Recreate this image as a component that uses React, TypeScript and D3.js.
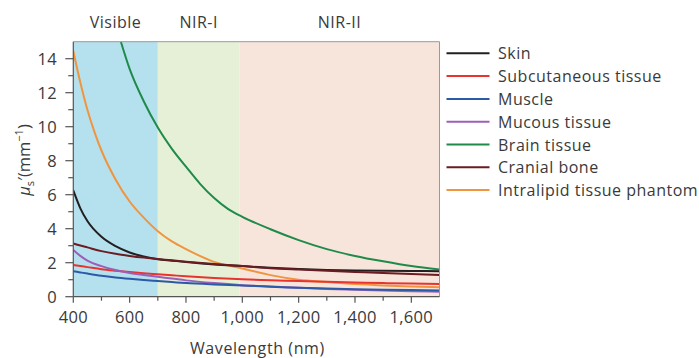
import React from "react";
import * as d3 from "d3";

const wavelengths = [400, 425, 450, 500, 550, 600, 650, 700, 750, 800, 900, 1000, 1100, 1200, 1300, 1400, 1500, 1600, 1700];
const skin = [6.25, 5.2, 4.45, 3.52, 2.97, 2.6, 2.36, 2.2, 2.12, 2.04, 1.9, 1.8, 1.7, 1.63, 1.57, 1.54, 1.52, 1.51, 1.5];
const subcutaneous = [1.86, 1.8, 1.74, 1.62, 1.53, 1.45, 1.38, 1.32, 1.26, 1.2, 1.1, 1.02, 0.97, 0.92, 0.88, 0.84, 0.8, 0.77, 0.74];
const muscle = [1.5, 1.43, 1.36, 1.23, 1.13, 1.05, 0.98, 0.92, 0.86, 0.8, 0.72, 0.66, 0.58, 0.53, 0.48, 0.44, 0.41, 0.39, 0.37];
const mucous = [2.75, 2.4, 2.12, 1.8, 1.57, 1.4, 1.28, 1.17, 1.07, 0.96, 0.8, 0.68, 0.6, 0.52, 0.46, 0.41, 0.36, 0.32, 0.29];
const cranialBone = [3.13, 3.01, 2.9, 2.68, 2.52, 2.4, 2.3, 2.22, 2.14, 2.06, 1.92, 1.8, 1.68, 1.6, 1.53, 1.46, 1.39, 1.33, 1.27];

const intralipidWavelengths = [400, 425, 450, 475, 500, 550, 600, 650, 700, 750, 800, 900, 1000, 1100, 1200, 1300, 1400, 1500, 1600, 1700];
const intralipid = [14.45, 12.6, 11.0, 9.7, 8.6, 6.9, 5.6, 4.65, 3.85, 3.25, 2.8, 2.05, 1.66, 1.27, 1.0, 0.86, 0.74, 0.66, 0.6, 0.56];

const brainWavelengths = [570, 600, 650, 700, 750, 800, 850, 900, 950, 1000, 1100, 1200, 1300, 1400, 1500, 1600, 1700];
const brain = [14.94, 13.4, 11.5, 9.95, 8.7, 7.65, 6.64, 5.8, 5.15, 4.7, 3.97, 3.33, 2.8, 2.4, 2.08, 1.8, 1.6];

const seriesNames = ["Skin", "Subcutaneous tissue", "Muscle", "Mucous tissue", "Brain tissue", "Cranial bone", "Intralipid tissue phantom"];
const seriesColors = ["#231f20", "#e8342f", "#2b5aa6", "#9c5fb8", "#1f8a4a", "#6a1c22", "#ef9540"];

const bandNames = ["Visible", "NIR-I", "NIR-II"];
const bandStarts = [400, 700, 990];
const bandEnds = [700, 990, 1700];
const bandColors = ["#b5e1ee", "#e6f0d7", "#f7e5dc"];

const xTicks = [400, 500, 600, 700, 800, 900, 1000, 1100, 1200, 1300, 1400, 1500, 1600];
const xTickLabels = ["400", "", "600", "", "800", "", "1,000", "", "1,200", "", "1,400", "", "1,600"];
const yTicks = [0, 1, 2, 3, 4, 5, 6, 7, 8, 9, 10, 11, 12, 13, 14];

const FONT = "'Open Sans', Lato, sans-serif";
const TEXT = "#3a3a3a";

export default function App() {
  const left = 73.3, right = 439.5, top = 41.7, bottom = 296.7;
  const x = d3.scaleLinear().domain([400, 1700]).range([left, right]);
  const y = d3.scaleLinear().domain([0, 15]).range([bottom, top]);

  const line = d3
    .line<[number, number]>()
    .x((d) => x(d[0]))
    .y((d) => y(d[1]))
    .curve(d3.curveMonotoneX);

  const zip = (ws: number[], vs: number[]) => ws.map((w, i) => [w, vs[i]] as [number, number]);
  const series = [
    zip(wavelengths, skin),
    zip(wavelengths, subcutaneous),
    zip(wavelengths, muscle),
    zip(wavelengths, mucous),
    zip(brainWavelengths, brain),
    zip(wavelengths, cranialBone),
    zip(intralipidWavelengths, intralipid),
  ];
  const drawOrder = [4, 6, 0, 5, 1, 3, 2];

  const legendX = 446.5, legendY0 = 53.3, legendStep = 22.8;

  return (
    <svg width={699} height={358} style={{ position: "absolute", left: 0, top: 0, background: "#fff" }} fontFamily={FONT}>
      <defs>
        <clipPath id="plotclip">
          <rect x={left} y={top} width={right - left} height={bottom - top} />
        </clipPath>
      </defs>
      {bandNames.map((b, i) => (
        <g key={b}>
          <rect x={x(bandStarts[i])} y={top} width={x(bandEnds[i]) - x(bandStarts[i])} height={bottom - top} fill={bandColors[i]} />
          <text x={(x(bandStarts[i]) + x(bandEnds[i])) / 2} y={27.5} textAnchor="middle" fontSize={16} letterSpacing={0.5} fill={TEXT}>
            {b}
          </text>
        </g>
      ))}
      <g clipPath="url(#plotclip)">
        {drawOrder.map((i) => (
          <path key={i} d={line(series[i]) || ""} fill="none" stroke={seriesColors[i]} strokeWidth={2} strokeLinecap="round" />
        ))}
      </g>
      <line x1={left} x2={right} y1={top} y2={top} stroke="#999" strokeWidth={1} />
      <line x1={right} x2={right} y1={top} y2={bottom} stroke="#999" strokeWidth={1} />
      <line x1={left} x2={left} y1={top} y2={bottom} stroke="#555" strokeWidth={1.2} />
      <line x1={left} x2={right} y1={bottom} y2={bottom} stroke="#555" strokeWidth={1.2} />
      {yTicks.map((t) => (
        <g key={t}>
          <line x1={left - (t % 2 === 0 ? 8 : 5)} x2={left} y1={y(t)} y2={y(t)} stroke="#555" strokeWidth={1.2} />
          {t % 2 === 0 && (
            <text x={57} y={y(t) + 6} textAnchor="end" fontSize={16.5} letterSpacing={0.3} fill={TEXT}>
              {t}
            </text>
          )}
        </g>
      ))}
      {xTicks.map((t, i) => (
        <g key={t}>
          <line x1={x(t)} x2={x(t)} y1={bottom} y2={bottom + (xTickLabels[i] ? 6 : 4)} stroke="#555" strokeWidth={1.2} />
          {xTickLabels[i] && (
            <text x={x(t)} y={323} textAnchor="middle" fontSize={16.5} letterSpacing={0.3} fill={TEXT}>
              {xTickLabels[i]}
            </text>
          )}
        </g>
      ))}
      <text x={(left + right) / 2 + 1} y={354} textAnchor="middle" fontSize={16} letterSpacing={0.6} fill={TEXT}>
        Wavelength (nm)
      </text>
      <text transform={`translate(30, 160) rotate(-90)`} textAnchor="middle" fontSize={16.5} fill={TEXT}>
        <tspan fontStyle="italic">μ</tspan>
        <tspan fontSize={11} dy={4}>s</tspan>
        <tspan dy={-4}>′(mm</tspan>
        <tspan fontSize={11} dy={-7}>−1</tspan>
        <tspan dy={7}>)</tspan>
      </text>
      {seriesNames.map((n, i) => (
        <g key={n}>
          <line x1={legendX} x2={legendX + 43} y1={legendY0 + i * legendStep} y2={legendY0 + i * legendStep} stroke={seriesColors[i]} strokeWidth={2} />
          <text x={498} y={legendY0 + i * legendStep + 6} fontSize={16} letterSpacing={0.5} fill={TEXT}>
            {n}
          </text>
        </g>
      ))}
    </svg>
  );
}
